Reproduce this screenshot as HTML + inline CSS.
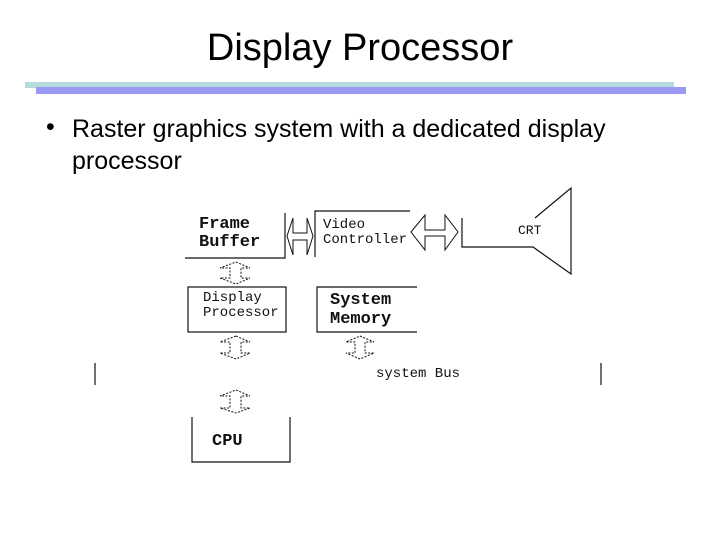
<!DOCTYPE html>
<html><head><meta charset="utf-8"><style>
body{margin:0;width:720px;height:540px;background:#fff;position:relative;overflow:hidden;font-family:"Liberation Sans",sans-serif}
.t{position:absolute;white-space:nowrap}
.m{font-family:"Liberation Mono",monospace;position:absolute;white-space:nowrap;color:#111}
</style></head><body>
<div class="t" style="left:0;width:720px;text-align:center;top:27px;font-size:38px;">Display Processor</div>
<div style="position:absolute;left:25px;top:82px;width:649px;height:6px;background:#b4dcdc"></div>
<div style="position:absolute;left:36px;top:87px;width:650px;height:7px;background:#9a9af2"></div>
<div class="t" style="left:46px;top:113px;font-size:25px;">•</div>
<div class="t" style="left:72px;top:113px;font-size:25px;line-height:32px">Raster graphics system with a dedicated display<br>processor</div>
<svg width="720" height="540" style="position:absolute;left:0;top:0" fill="none" stroke="#111" stroke-width="1.2">
<polyline points="185,258 285,258 285,213"/>
<polyline points="315,257 315,211 410,211"/>
<polygon points="287,236 293,218 293,233 307,233 307,218 313,236 307,255 307,240 293,240 293,255" stroke-width="1"/>
<polygon points="411,232 425,215 425,230 445,230 445,215 458,232 445,250 445,236 425,236 425,250" stroke-width="1"/>
<polyline points="462,218 462,247 533,247 571,274 571,188 535,218"/>
<rect x="188" y="287" width="98" height="45"/>
<polyline points="417,287 317,287 317,332 417,332"/>
<polyline points="192,417 192,462 290,462 290,417"/>
<line x1="95" y1="363" x2="95" y2="385"/><line x1="601" y1="363" x2="601" y2="385"/>
<g stroke-width="1" stroke-dasharray="2,1.5">
<polygon points="236,262 250,268 241,268 241,278 250,278 236,284 220,278 230,278 230,268 220,268"/>
<polygon points="236,336 250,342 241,342 241,353 250,353 236,359 220,353 230,353 230,342 220,342"/>
<polygon points="360,336 374,342 365,342 365,353 374,353 360,359 346,353 355,353 355,342 346,342"/>
<polygon points="236,390 250,396 241,396 241,408 250,408 236,413 220,408 230,408 230,396 220,396"/>
</g>
</svg>
<div class="m" style="left:199px;top:216px;font-size:17px;font-weight:bold;line-height:18px">Frame<br>Buffer</div>
<div class="m" style="left:323px;top:218px;font-size:14px;line-height:15px">Video<br>Controller</div>
<div class="m" style="left:518px;top:223px;font-size:13px">CRT</div>
<div class="m" style="left:203px;top:291px;font-size:14px;line-height:15px">Display<br>Processor</div>
<div class="m" style="left:330px;top:291px;font-size:17px;font-weight:bold;line-height:19px">System<br>Memory</div>
<div class="m" style="left:376px;top:366px;font-size:14px">system Bus</div>
<div class="m" style="left:212px;top:432px;font-size:17px;font-weight:bold">CPU</div>
</body></html>
